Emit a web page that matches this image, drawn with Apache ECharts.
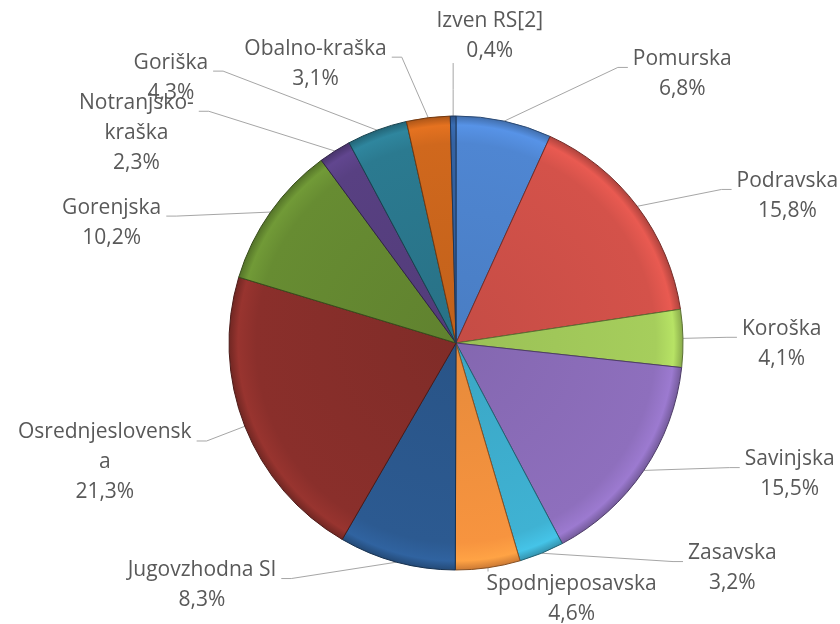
<!DOCTYPE html>
<html>
<head>
<meta charset="utf-8">
<script src="https://cdn.jsdelivr.net/npm/echarts@6/dist/echarts.min.js"></script>
<style>
  html, body { margin: 0; padding: 0; background: #fff; }
  #chart { width: 840px; height: 624px; }
</style>
</head>
<body>
<div id="chart"></div>
<script>
  // regions (label text as shown, with its line breaks)
  var categories = ['Pomurska', 'Podravska', 'Koroška', 'Savinjska', 'Zasavska',
                    'Spodnjeposavska', 'Jugovzhodna SI', 'Osrednjeslovensk\na',
                    'Gorenjska', 'Notranjsko-\nkraška', 'Goriška', 'Obalno-kraška', 'Izven RS[2]'];
  // share in %
  var shares = [6.8, 15.8, 4.1, 15.5, 3.2, 4.6, 8.3, 21.3, 10.2, 2.3, 4.3, 3.1, 0.4];

  // styling: slice colours and leader line lengths [length, length2] per slice
  var colors = ['#4f86d2', '#d4524a', '#a6ce5c', '#8e6fbd', '#3fb2d3', '#f7943f', '#2c5a91',
                '#8a2f2b', '#678c32', '#584082', '#2b7a90', '#d0681d', '#3462a2'];
  var leaders = [[55, 112], [28, 72], [52, 2], [-5, 100], [9, 138], [25, -10], [17, 111],
                 [40, 11], [-7, 110], [47, 111], [63, 142], [61, 29], [87, -96]];

  var LINE_H = 30;

  function shade(hex, k) {
      var n = parseInt(hex.slice(1), 16);
      var r = Math.round(((n >> 16) & 255) * k), g = Math.round(((n >> 8) & 255) * k), b = Math.round((n & 255) * k);
      return 'rgb(' + Math.min(r, 255) + ',' + Math.min(g, 255) + ',' + Math.min(b, 255) + ')';
  }

  var pieData = categories.map(function (c, i) {
      return {
          name: c,
          value: shares[i],
          itemStyle: {
              color: {
                  type: 'radial', x: 456, y: 343, r: 227, global: true,
                  colorStops: [
                      { offset: 0, color: shade(colors[i], 0.93) },
                      { offset: 0.88, color: shade(colors[i], 1.0) },
                      { offset: 0.96, color: shade(colors[i], 1.1) },
                      { offset: 1, color: shade(colors[i], 0.82) }
                  ]
              },
              borderColor: shade(colors[i], 0.55),
              borderWidth: 1
          },
          labelLine: { length: leaders[i][0], length2: leaders[i][1] }
      };
  });

  var dom = document.getElementById('chart');
  var myChart = echarts.init(dom);
  var option = {
      backgroundColor: '#fff',
      animation: false,
      series: [
          {
              type: 'pie',
              center: [456, 343],
              radius: 227,
              startAngle: 90,
              clockwise: true,
              avoidLabelOverlap: false,
              data: pieData,
              label: {
                  show: true,
                  position: 'outside',
                  formatter: function (p) {
                      var lines = p.name.split('\n');
                      lines.push(String(p.value).replace('.', ',') + '%');
                      return lines.map(function (l) { return '{t|' + l + '}'; }).join('\n');
                  },
                  rich: {
                      t: {
                          align: 'center',
                          fontFamily: 'Open Sans',
                          fontSize: 21,
                          lineHeight: LINE_H,
                          color: '#595959'
                      }
                  }
              },
              labelLine: {
                  show: true,
                  lineStyle: { color: '#a6a6a6', width: 1 }
              },
              // excel-like leaders: first text line sits at the line end,
              // straight line from the slice with a short horizontal stub
              labelLayout: function (p) {
                  var pts = p.labelLinePoints;
                  if (!pts) return {};
                  var r = p.labelRect;
                  var dy = r.height / 2 - LINE_H / 2 - 4;
                  var top = r.y + dy, bottom = top + r.height;
                  var p0 = pts[0], p3 = pts[pts.length - 1];
                  var line;
                  if (p0[0] >= r.x && p0[0] <= r.x + r.width) {
                      var yEnd = p0[1] > bottom ? bottom + 2 : top - 2;
                      line = [p0, [p0[0], (p0[1] + yEnd) / 2], [p0[0], yEnd]];
                  } else {
                      var dir = p3[0] > p0[0] ? 1 : -1;
                      line = [p0, [p3[0] - dir * 10, p3[1]], [p3[0], p3[1]]];
                  }
                  return { dy: dy, labelLinePoints: line };
              }
          }
      ]
  };
  myChart.setOption(option);
</script>
</body>
</html>
